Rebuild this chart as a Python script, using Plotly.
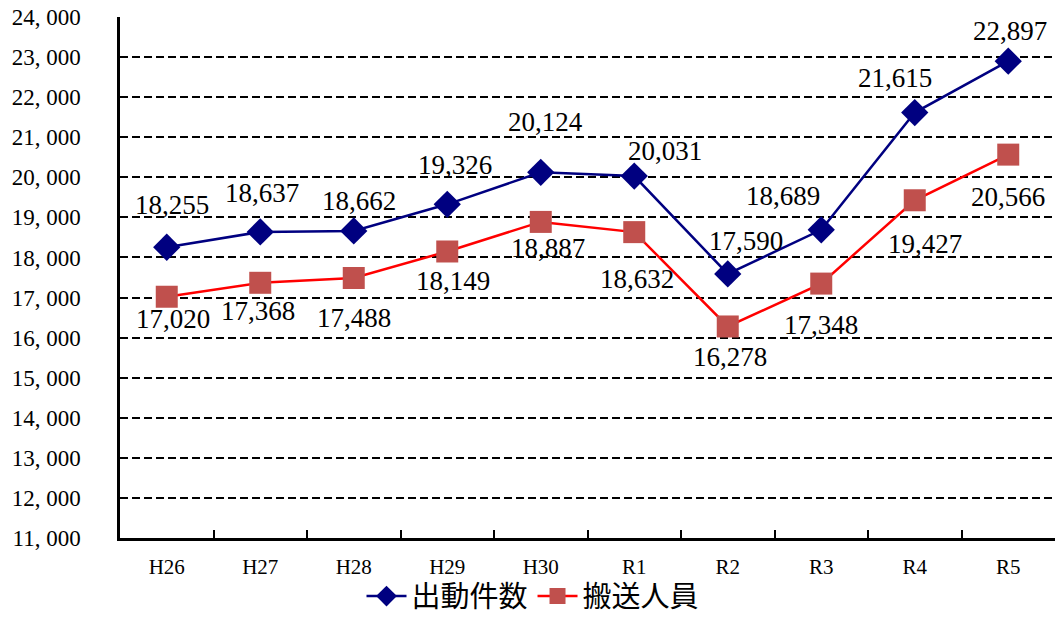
import plotly.graph_objects as go

categories = ["H26", "H27", "H28", "H29", "H30", "R1", "R2", "R3", "R4", "R5"]
dispatches = [18255, 18637, 18662, 19326, 20124, 20031, 17590, 18689, 21615, 22897]
transported = [17020, 17368, 17488, 18149, 18887, 18632, 16278, 17348, 19427, 20566]
series_names = ["出動件数", "搬送人員"]
y_tickvals = list(range(11000, 24001, 1000))
y_ticktext = [f"{v // 1000}, {v % 1000:03d}" for v in y_tickvals]

# label offsets in pixels (x, y) for data labels
disp_offsets = [(5, 42), (2, 39), (5, 30), (8, 39), (5, 50), (31, 25), (18, 33), (-38, 34), (-20, 35), (2, 30)]
trans_offsets = [(6, -22), (-2, -28), (0, -40), (6, -30), (7, -26), (3, -47), (2, -31), (0, -41), (10, -44), (0, -42)]

NUM_FONT = "Liberation Serif, DejaVu Serif, serif"
CJK_FONT = "Noto Sans CJK JP, sans-serif"

fig = go.Figure()
fig.add_trace(go.Scatter(
    x=categories, y=dispatches, name=series_names[0], mode="lines+markers",
    line=dict(color="#000080", width=2.5),
    marker=dict(symbol="diamond", size=21, color="#000080"),
))
fig.add_trace(go.Scatter(
    x=categories, y=transported, name=series_names[1], mode="lines+markers",
    line=dict(color="#FF0000", width=2.5),
    marker=dict(symbol="square", size=22, color="#C0504D"),
))

annotations = []
for vals, offs in ((dispatches, disp_offsets), (transported, trans_offsets)):
    for c, v, (dx, dy) in zip(categories, vals, offs):
        annotations.append(dict(
            x=c, y=v, xref="x", yref="y", text=f"{v:,}", showarrow=False,
            xshift=dx, yshift=dy, font=dict(family=NUM_FONT, size=27, color="#000000"),
        ))

fig.update_layout(
    width=1057, height=623,
    margin=dict(l=120, r=2, t=17, b=85, autoexpand=False),
    paper_bgcolor="white", plot_bgcolor="white",
    font=dict(family=NUM_FONT),
    showlegend=True,
    legend=dict(
        orientation="h", xref="container", x=533 / 1057, xanchor="center",
        yref="container", y=0.002, yanchor="bottom",
        font=dict(family=CJK_FONT, size=29, color="#000000"),
        itemwidth=40, bgcolor="rgba(0,0,0,0)",
    ),
    annotations=annotations,
)
fig.update_xaxes(
    type="category", showgrid=False, showline=True, linecolor="#000000", linewidth=2.5,
    ticks="inside", ticklen=8, tickwidth=2, tickcolor="#000000", tickson="boundaries",
    tickfont=dict(family=NUM_FONT, size=21, color="#000000"), ticklabelstandoff=8,
    range=[-0.5, 9.5], zeroline=False, automargin=False,
)
fig.update_yaxes(
    range=[11000, 24000], tickvals=y_tickvals, ticktext=y_ticktext,
    showgrid=True, gridcolor="#000000", gridwidth=2, griddash="8px,4px",
    showline=True, linecolor="#000000", linewidth=2.5, ticks="",
    tickfont=dict(family=NUM_FONT, size=23, color="#000000"), ticklabelstandoff=32,
    ticklabeloverflow="allow", zeroline=False, automargin=False,
)

post = (
    "document.documentElement.style.margin='0';document.body.style.margin='0';"
    "document.body.style.overflow='hidden';document.documentElement.style.overflow='hidden';"
    "var gd=document.getElementById('{plot_id}');"
    "gd.style.position='fixed';gd.style.top='0px';gd.style.left='0px';"
)
fig.write_html("out.html", post_script=post, config={"displayModeBar": False})
